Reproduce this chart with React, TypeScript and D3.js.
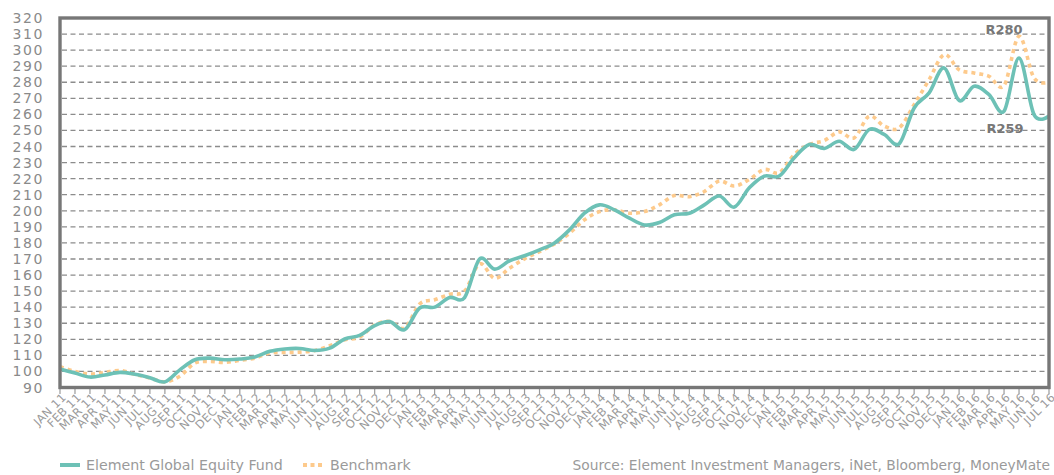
import React from "react";
import * as d3 from "d3";

const months = [
  "JAN 11", "FEB 11", "MAR 11", "APR 11", "MAY 11", "JUN 11", "JUL 11", "AUG 11", "SEP 11", "OCT 11", "NOV 11", "DEC 11",
  "JAN 12", "FEB 12", "MAR 12", "APR 12", "MAY 12", "JUN 12", "JUL 12", "AUG 12", "SEP 12", "OCT 12", "NOV 12", "DEC 12",
  "JAN 13", "FEB 13", "MAR 13", "APR 13", "MAY 13", "JUN 13", "JUL 13", "AUG 13", "SEP 13", "OCT 13", "NOV 13", "DEC 13",
  "JAN 14", "FEB 14", "MAR 14", "APR 14", "MAY 14", "JUN 14", "JUL 14", "AUG 14", "SEP 14", "OCT 14", "NOV 14", "DEC 14",
  "JAN 15", "FEB 15", "MAR 15", "APR 15", "MAY 15", "JUN 15", "JUL 15", "AUG 15", "SEP 15", "OCT 15", "NOV 15", "DEC 15",
  "JAN 16", "FEB 16", "MAR 16", "APR 16", "MAY 16", "JUN 16", "JUL 16",
];

const fund = [
  101.5, 99.0, 96.5, 97.8, 99.4, 98.2, 96.1, 93.5, 101, 107.3,
  108.3, 107.3, 107.7, 109, 112.5, 114, 114.3, 113, 114.5, 120.2,
  122.5, 128.5, 131, 126, 139.5, 140, 146, 146, 170, 163.7,
  168.9, 172, 175.7, 180, 188.1, 198.5, 203.7, 200.6, 195.4, 191.2,
  192.7, 197.5, 198.5, 203.7, 209.2, 202.3, 214.3, 221.6, 221.6, 233,
  241.3, 238.8, 243.3, 238.2, 250.6, 247.5, 241.7, 264, 273.4, 288.9,
  268.6, 277.5, 272.3, 262, 295.1, 259.9, 259,
];

const benchmark = [
  103, 100, 98.4, 99.4, 100.6, 98.2, 95.9, 93.5, 97, 105.2,
  106.2, 105.6, 106.9, 108.3, 111.5, 111.8, 112, 113, 116, 119.7,
  121.4, 129, 131.1, 127, 142, 144.6, 148, 150, 167, 158,
  164.3, 170.1, 174.6, 179.4, 186, 194.4, 199.5, 200.6, 198.5, 199.5,
  203.7, 209.5, 208.8, 212, 218.5, 215.4, 219.5, 225.7, 223.7, 235,
  241.3, 243.7, 249.1, 245.4, 258.9, 252.7, 251.6, 266.1, 281.6, 297.2,
  287.8, 285.8, 283.7, 277.9, 308.6, 282.7, 280,
];

const yTicks = [90, 100, 110, 120, 130, 140, 150, 160, 170, 180, 190, 200, 210, 220, 230, 240, 250, 260, 270, 280, 290, 300, 310, 320];

const seriesNames = ["Element Global Equity Fund", "Benchmark"];
const sourceText = "Source: Element Investment Managers, iNet, Bloomberg, MoneyMate";
const endLabels = ["R280", "R259"];

const TEAL = "#6dc1b6";
const ORANGE = "#fdca8c";
const FONT = "'DejaVu Sans', sans-serif";

export default function App() {
  const width = 1054;
  const height = 475;

  const x = d3.scalePoint<string>().domain(months).range([60, 1049]);
  const y = d3.scaleLinear().domain([90, 320]).range([387.5, 18]);

  const line = d3
    .line<number>()
    .x((_, i) => x(months[i]) as number)
    .y((d) => y(d))
    .curve(d3.curveCardinal.tension(0));

  const x0 = x(months[0]) as number;
  const x1 = x(months[months.length - 1]) as number;

  return (
    <svg
      width={width}
      height={height}
      style={{ position: "absolute", left: 0, top: 0, background: "#fff" }}
      fontFamily={FONT}
    >
      {/* grid */}
      {yTicks
        .filter((t) => t > 90 && t < 320)
        .map((t) => (
          <line
            key={t}
            x1={x0 + 2}
            x2={x1 - 2}
            y1={y(t)}
            y2={y(t)}
            stroke="#8c8c8c"
            strokeWidth={1.3}
            strokeDasharray="5,3.5"
          />
        ))}

      {/* y labels */}
      {yTicks.map((t) => (
        <text
          key={t}
          x={44}
          y={y(t)}
          dy="0.36em"
          textAnchor="end"
          fontSize={14}
          letterSpacing={1.6}
          fill="#8a8a8a"
        >
          {t}
        </text>
      ))}

      {/* x ticks + labels */}
      {months.map((m) => {
        const px = x(m) as number;
        return (
          <g key={m}>
            <line x1={px} x2={px} y1={388} y2={394} stroke="#9a9a9a" strokeWidth={1.2} />
            <text
              transform={`translate(${px + 7},${398}) rotate(-45)`}
              textAnchor="end"
              fontSize={11.5}
              letterSpacing={0.4}
              fill="#9a9a9a"
            >
              {m}
            </text>
          </g>
        );
      })}

      {/* series */}
      <path d={line(benchmark) ?? ""} fill="none" stroke={ORANGE} strokeWidth={3.6} strokeDasharray="4,4" />
      <path d={line(fund) ?? ""} fill="none" stroke={TEAL} strokeWidth={3.6} />

      {/* frame */}
      <rect x={x0} y={y(320)} width={x1 - x0} height={y(90) - y(320)} fill="none" stroke="#777" strokeWidth={3.4} />

      {/* end labels */}
      <text x={1004} y={y(benchmark[benchmark.length - 1]) - 53} dy="0.36em" textAnchor="middle" fontSize={13} fontWeight="bold" fill="#777">
        {endLabels[0]}
      </text>
      <text x={1005} y={y(fund[fund.length - 1]) + 12} dy="0.36em" textAnchor="middle" fontSize={13} fontWeight="bold" fill="#777">
        {endLabels[1]}
      </text>

      {/* legend */}
      <line x1={60} x2={80} y1={465} y2={465} stroke={TEAL} strokeWidth={4} />
      <text x={86} y={465} dy="0.36em" fontSize={14.2} fill="#9a9a9a">
        {seriesNames[0]}
      </text>
      <line x1={303} x2={324} y1={465} y2={465} stroke={ORANGE} strokeWidth={4} strokeDasharray="4,3.5" />
      <text x={330} y={465} dy="0.36em" fontSize={14.2} fill="#9a9a9a">
        {seriesNames[1]}
      </text>
      <text x={1050} y={465} dy="0.36em" textAnchor="end" fontSize={13.8} fill="#9a9a9a">
        {sourceText}
      </text>
    </svg>
  );
}
